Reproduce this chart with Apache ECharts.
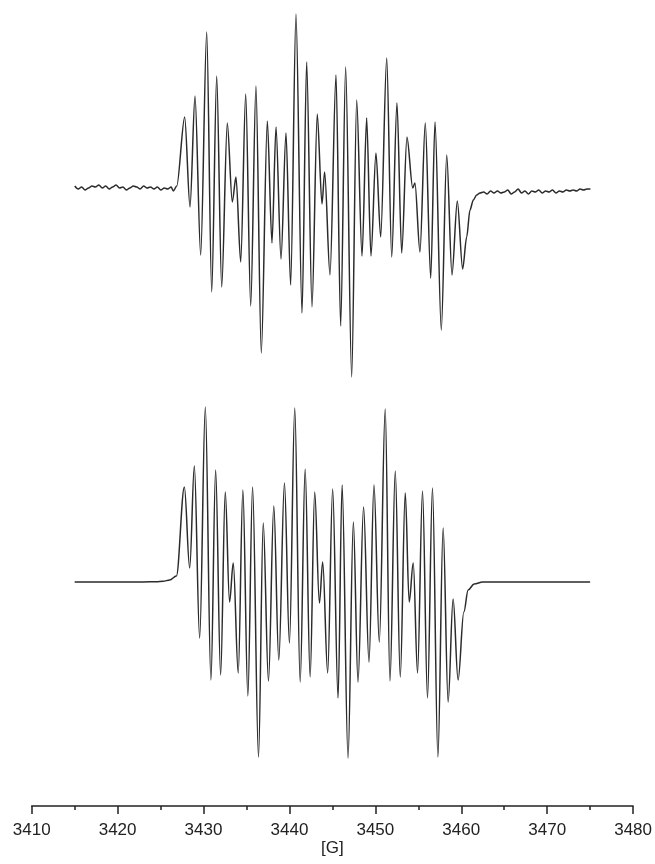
<!DOCTYPE html>
<html>
<head>
<meta charset="utf-8">
<script src="https://cdn.jsdelivr.net/npm/echarts@6/dist/echarts.min.js"></script>
<style>
html,body{margin:0;padding:0;background:#fff;}
#chart{width:655px;height:864px;}
</style>
</head>
<body>
<div id="chart"></div>
<script>
// Experimental spectrum (top): field [G] and intensity (arb. units)
var expField = [
3415.0,3415.4,3415.8,3416.2,3416.6,3417.0,3417.4,3417.8,3418.2,3418.6,3419.0,3419.4,3419.8,3420.2,3420.6,3421.0,3421.4,3421.8,3422.2,3422.6,3423.0,3423.4,3423.8,3424.2,3424.6,3425.0,3425.4,3425.8,3426.2,
3426.45,3426.85,3427.77,3428.39,3428.97,3429.63,3430.33,3430.91,3431.49,3432.07,3432.72,3433.30,3433.73,3434.28,3434.86,3435.44,3436.05,3436.67,3437.37,3437.91,3438.38,3438.96,3439.54,3440.08,3440.70,3441.40,3441.94,3442.56,3443.17,3443.72,3444.03,3444.65,3445.35,3445.89,3446.47,3447.17,3447.75,3448.37,3448.91,3449.41,3449.99,3450.54,3451.24,3451.82,3452.43,3452.98,3453.59,3454.26,3454.52,3455.10,3455.72,3456.35,3456.85,3457.58,3458.21,3458.82,3459.44,3460.06,3460.53,3460.91,3461.30,3461.69,3462.07,
3462.5,3462.9,3463.3,3463.7,3464.1,3464.5,3464.9,3465.3,3465.7,3466.1,3466.5,3466.9,3467.3,3467.7,3468.1,3468.5,3468.9,3469.3,3469.7,3470.1,3470.5,3470.9,3471.3,3471.7,3472.1,3472.5,3472.9,3473.3,3473.7,3474.1,3474.5,3474.9
];
var expIntensity = [
2,-1,1,-2,0,2,1,3,0,2,-1,1,3,0,1,-2,0,2,1,-1,2,0,1,-1,1,-2,0,-1,1,
-3,2,71,-19,92,-67,156,-104,112,-99,65,-14,11,-74,94,-118,102,-165,67,-55,61,-71,55,-97,174,-125,126,-119,74,-16,16,-87,113,-138,121,-189,88,-68,70,-68,35,-49,130,-69,85,-65,51,0,5,-64,65,-90,66,-142,33,-87,-13,-81,-49,-22,-12,-7,-5,
-4,-6,-3,-5,-3,-5,-4,-2,-6,-4,-1,-5,-3,-6,-3,-4,-2,-5,-3,-4,-2,-5,-3,-4,-2,-3,-2,-3,-1,-2,-1,-1
];

// Simulated spectrum (bottom)
var simField = [
3415.0,3423.0,3424.5,3425.3,3426.06,3426.84,3427.77,3428.39,3428.93,3429.55,3430.21,3430.86,3431.41,3431.99,3432.53,3433.03,3433.46,3434.04,3434.58,3435.16,3435.71,3436.40,3436.95,3437.56,3438.18,3438.76,3439.42,3440.00,3440.62,3441.25,3441.83,3442.41,3442.94,3443.49,3443.87,3444.45,3445.03,3445.66,3446.13,3446.82,3447.44,3447.98,3448.63,3449.26,3449.84,3450.46,3451.15,3451.70,3452.32,3452.90,3453.48,3453.94,3454.41,3454.91,3455.49,3456.07,3456.65,3457.28,3457.89,3458.47,3459.05,3459.63,3460.3,3460.8,3461.5,3462.5,3475.0
];
var simIntensity = [
0,0,0.3,0.8,2,6,95,14,116,-56,175,-98,112,-93,90,-20,19,-91,92,-114,95,-175,59,-99,76,-78,99,-61,174,-100,113,-95,90,-21,20,-91,93,-116,97,-176,60,-100,75,-80,97,-60,173,-99,111,-95,89,-20,19,-91,91,-116,94,-175,54,-120,-17,-98,-30,-8,-2,0,0
];

// Axis
var axisMin = 3410, axisMax = 3480, axisStep = 10;
var axisName = "[G]";

function pairs(xs, ys) {
  var out = [];
  for (var i = 0; i < xs.length; i++) out.push([xs[i], ys[i]]);
  return out;
}

var chart = echarts.init(document.getElementById('chart'), null, {renderer: 'canvas'});
var lineStyle = {color: '#2b2b2b', width: 1.5};
chart.setOption({
  animation: false,
  backgroundColor: '#ffffff',
  grid: [
    {left: 31.7, right: 20.7, top: 0, height: 400},
    {left: 31.7, right: 20.7, top: 395, height: 411}
  ],
  xAxis: [
    {gridIndex: 0, type: 'value', min: axisMin, max: axisMax, show: false},
    {gridIndex: 1, type: 'value', min: axisMin, max: axisMax, interval: axisStep,
     name: axisName, nameLocation: 'middle', nameGap: 31,
     nameTextStyle: {fontFamily: 'Liberation Sans', fontSize: 17, color: '#222'},
     axisLine: {show: true, onZero: false, lineStyle: {color: '#222', width: 1.5}},
     axisTick: {show: true, length: 8, lineStyle: {color: '#222', width: 1.5}},
     minorTick: {show: true, splitNumber: 2, length: 4, lineStyle: {color: '#222', width: 1.5}},
     splitLine: {show: false},
     axisLabel: {margin: 16, fontFamily: 'Liberation Sans', fontSize: 17, color: '#222',
       showMinLabel: true, showMaxLabel: true,
       formatter: function (v) { return String(v); }}
    }
  ],
  yAxis: [
    {gridIndex: 0, type: 'value', min: -212, max: 188, show: false},
    {gridIndex: 1, type: 'value', min: -224, max: 187, show: false}
  ],
  series: [
    {type: 'line', xAxisIndex: 0, yAxisIndex: 0, data: pairs(expField, expIntensity),
     showSymbol: false, smooth: 0.3, smoothMonotone: 'x', lineStyle: lineStyle},
    {type: 'line', xAxisIndex: 1, yAxisIndex: 1, data: pairs(simField, simIntensity),
     showSymbol: false, smooth: 0.35, smoothMonotone: 'x', lineStyle: lineStyle}
  ]
});
</script>
</body>
</html>
